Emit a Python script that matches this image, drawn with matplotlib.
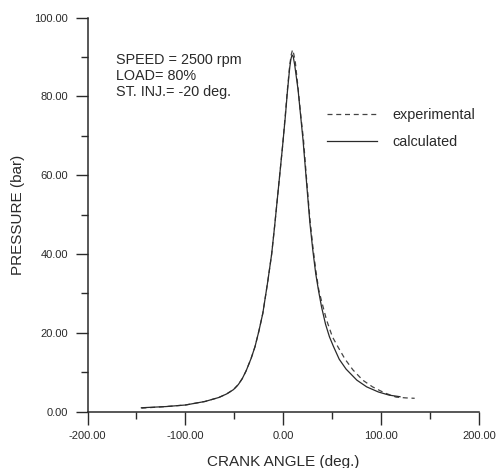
import matplotlib
matplotlib.use('Agg')
import matplotlib.pyplot as plt
from matplotlib.ticker import MultipleLocator, FormatStrFormatter

plt.rcParams['font.family'] = ['Liberation Sans', 'DejaVu Sans']
plt.rcParams['axes.unicode_minus'] = False

# calculated pressure trace (solid)
calc_angle = [-145, -120, -100, -80, -66, -58, -51, -46, -42, -38, -33, -29, -25, -21, -16, -12, -9, -5, -1,
              2, 4, 6.4, 7.6, 8.8, 10, 11.5, 15, 18, 20, 23, 27, 30, 33, 36, 39, 43, 47, 51, 57, 64,
              75, 85, 97, 108, 119]
calc_p = [1.0, 1.3, 1.7, 2.6, 3.6, 4.5, 5.6, 6.9, 8.4, 10.4, 13.5, 16.5, 20.5, 25.0, 33.0, 40.0, 47.0, 57.0, 67.0,
          75.0, 81.0, 87.2, 89.4, 90.5, 90.1, 88.0, 81.6, 74.0, 69.0, 60.0, 48.0, 41.0, 35.0, 30.5, 26.5, 22.2, 19.0, 16.6, 13.3, 10.8,
          8.0, 6.3, 5.0, 4.2, 3.8]

# experimental pressure trace (dashed)
exp_angle = [-145, -120, -100, -80, -66, -58, -51, -46, -42, -38, -33, -29, -25, -21, -16, -12, -9, -5, -1,
             2, 4, 6.4, 8, 9.3, 10.5, 12, 15, 18, 20.5, 23, 27, 30, 33, 36, 39, 44, 50, 56, 63, 71,
             81, 91, 103, 115, 125, 134]
exp_p = [0.9, 1.3, 1.7, 2.6, 3.6, 4.5, 5.6, 6.9, 8.4, 10.4, 13.5, 16.5, 20.5, 25.0, 33.0, 40.0, 47.0, 57.0, 67.0,
         75.5, 81.5, 87.8, 90.6, 91.8, 90.8, 89.0, 82.0, 74.5, 69.0, 61.0, 49.0, 42.0, 36.0, 31.0, 28.0, 23.3, 19.0, 16.3, 13.3, 10.6,
         8.0, 6.3, 4.8, 3.7, 3.5, 3.4]

info_lines = ['SPEED = 2500 rpm', 'LOAD= 80%', 'ST. INJ.= -20 deg.']

ink = '#2a2a2a'

fig = plt.figure(figsize=(5.01, 4.68), dpi=100)
ax = fig.add_axes([0.1747, 0.1203, 0.782, 0.8423])

ax.plot(exp_angle, exp_p, color='#444444', ls=(0, (4, 3)), lw=0.9, label='experimental')
ax.plot(calc_angle, calc_p, color=ink, ls='-', lw=0.9, label='calculated')

ax.set_xlim(-200, 200)
ax.set_ylim(0, 100)

for s in ['top', 'right']:
    ax.spines[s].set_visible(False)
for s in ['left', 'bottom']:
    ax.spines[s].set_linewidth(1.1)
    ax.spines[s].set_color(ink)

ax.xaxis.set_major_locator(MultipleLocator(100))
ax.xaxis.set_minor_locator(MultipleLocator(50))
ax.yaxis.set_major_locator(MultipleLocator(20))
ax.yaxis.set_minor_locator(MultipleLocator(10))
ax.xaxis.set_major_formatter(FormatStrFormatter('%.2f'))
ax.yaxis.set_major_formatter(FormatStrFormatter('%.2f'))
ax.tick_params(which='major', direction='out', length=9, width=1.0, color=ink,
               labelsize=8, labelcolor=ink, pad=5)
ax.tick_params(which='minor', direction='out', length=5, width=1.0, color=ink)

ax.set_xlabel('CRANK ANGLE (deg.)', fontsize=11, color=ink)
ax.set_ylabel('PRESSURE (bar)', fontsize=11, color=ink)
ax.xaxis.set_label_coords(0.5, -0.127)
ax.xaxis.label.set_va('center')
ax.yaxis.set_label_coords(-0.177, 0.5)
ax.yaxis.label.set_va('center')

for yy, txt in zip([88.25, 84.2, 80.0], info_lines):
    ax.text(-171, yy, txt, fontsize=10.4, color=ink, va='baseline', ha='left')

ax.legend(loc='upper left', bbox_to_anchor=(0.652, 0.769), bbox_transform=fig.transFigure,
          frameon=False, fontsize=10.4, handlelength=3.5, handletextpad=1.08,
          labelspacing=0.9, borderpad=0, borderaxespad=0, labelcolor=ink)

fig.savefig('out.png', dpi=100)
